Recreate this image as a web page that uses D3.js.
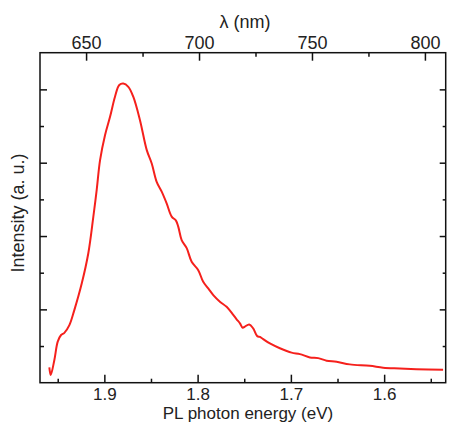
<!DOCTYPE html>
<html>
<head>
<meta charset="utf-8">
<script src="https://cdn.jsdelivr.net/npm/d3@7"></script>
<style>
  body { margin: 0; background: #fff; }
  svg text { font-family: "Liberation Sans", Arial, sans-serif; fill: #222; }
</style>
</head>
<body>
<div id="chart"></div>
<script>
// PL spectrum (energy in eV, intensity in a.u.)
const energy = [1.9590, 1.9575, 1.9536, 1.9500, 1.9464, 1.9429, 1.9375, 1.9322, 1.9242, 1.9172,
  1.9118, 1.9082, 1.9046, 1.8993, 1.8939, 1.8886, 1.8840, 1.8797, 1.8743, 1.8690,
  1.8618, 1.8546, 1.8492, 1.8439, 1.8385, 1.8332, 1.8278, 1.8232, 1.8207, 1.8171,
  1.8117, 1.8064, 1.7993, 1.7940, 1.7886, 1.7832, 1.7761, 1.7689, 1.7618, 1.7582,
  1.7546, 1.7517, 1.7493, 1.7447, 1.7404, 1.7361, 1.7332, 1.7314, 1.7225, 1.7118,
  1.6992, 1.6903, 1.6796, 1.6707, 1.6617, 1.6510, 1.6368, 1.6154, 1.6011, 1.5832,
  1.5653, 1.5368];
const intensity = [0.42, 0.21, 0.62, 1.12, 1.30, 1.36, 1.57, 1.98, 2.71, 3.53,
  4.53, 5.26, 6.07, 6.75, 7.25, 7.80, 8.12, 8.16, 8.07, 7.80,
  7.16, 6.35, 5.98, 5.48, 5.21, 4.89, 4.53, 4.42, 4.25, 3.89,
  3.67, 3.30, 3.07, 2.75, 2.57, 2.39, 2.21, 2.07, 1.85, 1.73,
  1.62, 1.50, 1.53, 1.59, 1.48, 1.27, 1.25, 1.22, 1.07, 0.94,
  0.82, 0.78, 0.69, 0.67, 0.60, 0.57, 0.50, 0.46, 0.41, 0.39,
  0.37, 0.35];

const eMajor = [1.9, 1.8, 1.7, 1.6];
const eMinor = [1.95, 1.85, 1.75, 1.65, 1.55];
const nmMajor = [650, 700, 750, 800];
const nmMinor = [675, 725, 775];
const yMajor = [2, 4, 6, 8];
const yMinor = [1, 3, 5, 7];

const W = 449, H = 423;
const plotLeft = 40, plotRight = 445.7, plotTop = 52.7, plotBottom = 382.7;

const x = d3.scaleLinear().domain([1.969, 1.534]).range([plotLeft, plotRight]);
const xTop = d3.scaleLinear().domain([629.6, 809.2]).range([plotLeft, plotRight]);
const y = d3.scaleLinear().domain([0, 9]).range([plotBottom, plotTop]);

const svg = d3.select('#chart').append('svg')
  .attr('width', W).attr('height', H);

// tick helper: inside ticks, no domain line
const tickStyle = size => g => {
  g.select('.domain').remove();
  g.selectAll('line').attr('stroke', '#111').attr('stroke-width', 1.5);
  g.selectAll('text').attr('font-size', size).attr('fill', '#222');
};

svg.append('g').attr('transform', `translate(0,${plotBottom})`)
  .call(d3.axisBottom(x).tickValues(eMinor).tickSize(-4).tickFormat(''))
  .call(tickStyle(17));
svg.append('g').attr('transform', `translate(0,${plotBottom})`)
  .call(d3.axisBottom(x).tickValues(eMajor).tickSize(-8).tickPadding(5).tickFormat(d3.format('.1f')))
  .call(tickStyle(17));

svg.append('g').attr('transform', `translate(0,${plotTop})`)
  .call(d3.axisTop(xTop).tickValues(nmMinor).tickSize(-4).tickFormat(''))
  .call(tickStyle(18));
svg.append('g').attr('transform', `translate(0,${plotTop})`)
  .call(d3.axisTop(xTop).tickValues(nmMajor).tickSize(-8).tickPadding(4).tickFormat(d3.format('d')))
  .call(tickStyle(18));

svg.append('g').attr('transform', `translate(${plotLeft},0)`)
  .call(d3.axisLeft(y).tickValues(yMajor).tickSize(-7).tickFormat(''))
  .call(tickStyle(18));
svg.append('g').attr('transform', `translate(${plotLeft},0)`)
  .call(d3.axisLeft(y).tickValues(yMinor).tickSize(-4).tickFormat(''))
  .call(tickStyle(18));
svg.append('g').attr('transform', `translate(${plotRight},0)`)
  .call(d3.axisRight(y).tickValues(yMajor).tickSize(-6).tickFormat(''))
  .call(tickStyle(18));
svg.append('g').attr('transform', `translate(${plotRight},0)`)
  .call(d3.axisRight(y).tickValues(yMinor).tickSize(-3).tickFormat(''))
  .call(tickStyle(18));

svg.append('rect')
  .attr('x', plotLeft).attr('y', plotTop)
  .attr('width', plotRight - plotLeft).attr('height', plotBottom - plotTop)
  .attr('fill', 'none').attr('stroke', '#111').attr('stroke-width', 1.5);

const line = d3.line()
  .x((d, i) => x(energy[i]))
  .y((d, i) => y(intensity[i]))
  .curve(d3.curveCatmullRom.alpha(0.5));

svg.append('path')
  .datum(energy)
  .attr('d', line)
  .attr('fill', 'none')
  .attr('stroke', '#f5201c')
  .attr('stroke-width', 2)
  .attr('stroke-linejoin', 'round');

// axis titles
svg.append('text')
  .attr('x', 245).attr('y', 28)
  .attr('text-anchor', 'middle').attr('font-size', 18)
  .text('λ (nm)');

svg.append('text')
  .attr('x', 248).attr('y', 419.3)
  .attr('text-anchor', 'middle').attr('font-size', 17)
  .text('PL photon energy (eV)');

svg.append('text')
  .attr('transform', 'translate(24,213) rotate(-90)')
  .attr('text-anchor', 'middle').attr('font-size', 18)
  .text('Intensity (a. u.)');
</script>
</body>
</html>
